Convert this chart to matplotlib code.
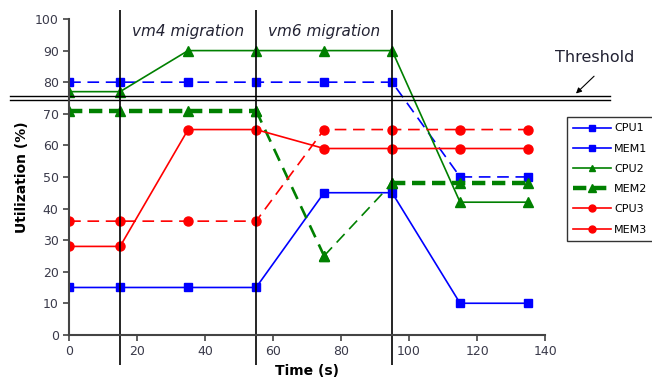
import matplotlib.pyplot as plt
from matplotlib.lines import Line2D

# sample times (s)
time = [0, 15, 35, 55, 75, 95, 115, 135]

cpu1 = [15, 15, 15, 15, 45, 45, 10, 10]
mem1 = [80, 80, 80, 80, 80, 80, 50, 50]
cpu2 = [77, 77, 90, 90, 90, 90, 42, 42]
mem2 = [71, 71, 71, 71, 25, 48, 48, 48]
cpu3 = [28, 28, 65, 65, 59, 59, 59, 59]
mem3 = [36, 36, 36, 36, 65, 65, 65, 65]

migrations = [15, 55, 95]
threshold = 75

plt.rcParams['font.family'] = ['DejaVu Sans']

fig = plt.figure(figsize=(6.52, 3.88), dpi=100)
ax = fig.add_axes([0.106, 0.137, 0.730, 0.814])

ms = 6
ax.plot(time, cpu1, "s-", color="blue", lw=1.2, ms=ms)
ax.plot(time, mem1, "s--", color="blue", lw=1.2, ms=ms, dashes=(7, 4))
ax.plot(time, cpu2, "^-", color="green", lw=1.2, ms=ms + 0.5)
# MEM2: thick while steady, thin during the vm6 move
ax.plot(time[:4], mem2[:4], "^--", color="green", lw=3.2, ms=ms + 0.5, dashes=(3, 1.5))
ax.plot(time[3:5], mem2[3:5], "^--", color="green", lw=1.9, ms=ms + 0.5, dashes=(5, 3))
ax.plot(time[4:6], mem2[4:6], "^--", color="green", lw=1.2, ms=ms + 0.5, dashes=(7, 4))
ax.plot(time[5:], mem2[5:], "^--", color="green", lw=3.2, ms=ms + 0.5, dashes=(3, 1.5))
ax.plot(time, cpu3, "o-", color="red", lw=1.2, ms=ms + 0.5)
ax.plot(time, mem3, "o--", color="red", lw=1.2, ms=ms + 0.5, dashes=(7, 4))

ax.set_xlim(0, 140)
ax.set_ylim(0, 100)
ax.set_xticks(range(0, 141, 20))
ax.set_yticks(range(0, 101, 10))
for s in ["top", "right"]:
    ax.spines[s].set_visible(False)
for s in ["left", "bottom"]:
    ax.spines[s].set_color("#444444")
    ax.spines[s].set_linewidth(1.5)
ax.tick_params(direction="out", length=4, width=1.2, color="#444444",
               labelsize=9, labelcolor="#3a3a4a")
ax.set_xlabel("Time (s)", fontsize=10, fontweight="bold")
ax.set_ylabel("Utilization (%)", fontsize=10, fontweight="bold")

# migration markers, running past the axes
ax.vlines(migrations, -9.5, 103, color="black", lw=1.2, clip_on=False)
ax.text(35, 96, "vm4 migration", style="italic", fontsize=11, ha="center", va="center", color="#222233")
ax.text(75, 96, "vm6 migration", style="italic", fontsize=11, ha="center", va="center", color="#222233")

# double threshold line
ax.plot([-17.5, 159], [threshold + 0.5, threshold + 0.5], color="black", lw=1, clip_on=False)
ax.plot([-17.5, 159], [threshold - 0.5, threshold - 0.5], color="black", lw=1, clip_on=False)
ax.annotate("", xy=(148.5, 75.8), xytext=(155, 82.5),
            arrowprops=dict(arrowstyle="-|>", color="black", lw=0.8, mutation_scale=8),
            annotation_clip=False)
ax.text(154.5, 87.7, "Threshold", fontsize=11.5, ha="center", va="center", color="#222233",
        clip_on=False)

handles = [
    Line2D([], [], color="blue", marker="s", lw=1.2, ms=5),
    Line2D([], [], color="blue", marker="s", lw=1.2, ms=5),
    Line2D([], [], color="green", marker="^", lw=1.2, ms=5),
    Line2D([], [], color="green", marker="^", lw=3.2, ms=6, dashes=(3, 1.5)),
    Line2D([], [], color="red", marker="o", lw=1.2, ms=5),
    Line2D([], [], color="red", marker="o", lw=1.2, ms=5),
]
labels = ["CPU1", "MEM1", "CPU2", "MEM2", "CPU3", "MEM3"]
fig.legend(handles, labels, loc="upper left", bbox_to_anchor=(0.869, 0.699), fontsize=8,
           frameon=True, fancybox=False, edgecolor="black", borderpad=0.6,
           labelspacing=0.92, handlelength=3.4, handletextpad=0.3, borderaxespad=0)

fig.savefig("out.png", dpi=100)
